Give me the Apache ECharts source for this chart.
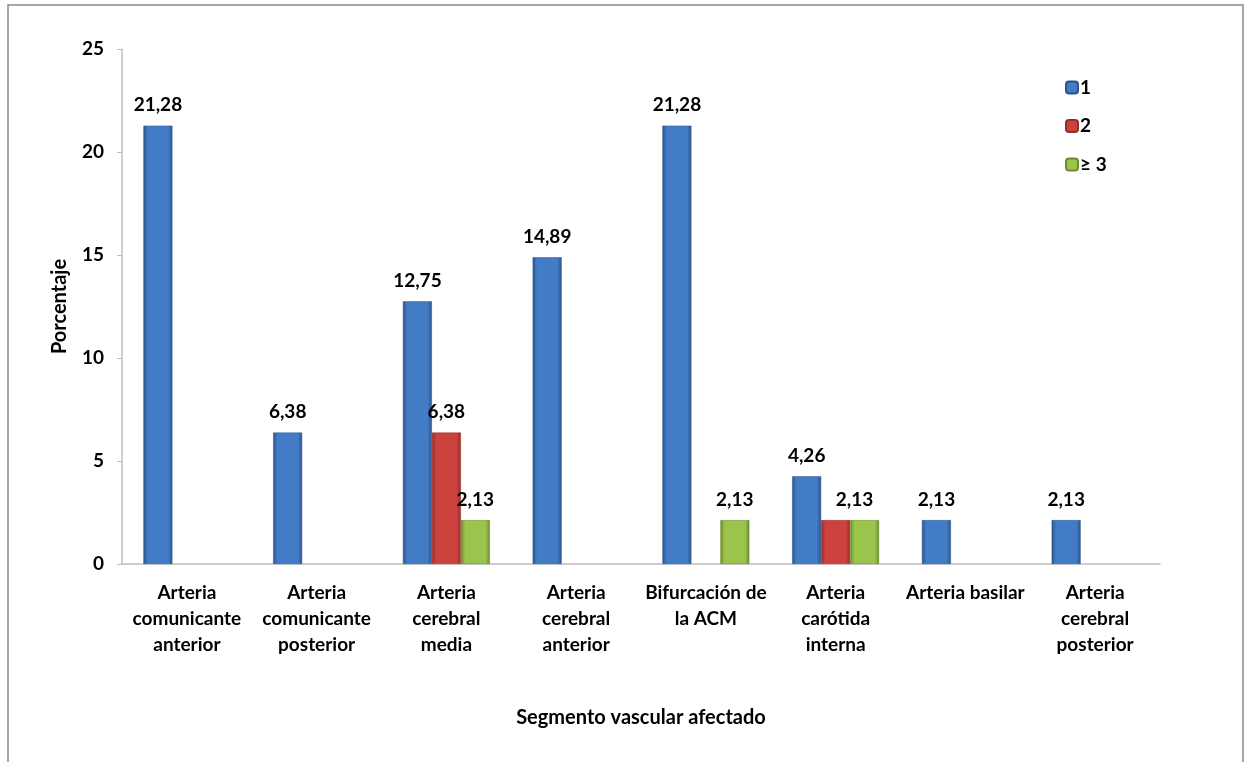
<!DOCTYPE html>
<html><head><meta charset="utf-8">
<script src="https://cdn.jsdelivr.net/npm/echarts@6/dist/echarts.min.js"></script>
<style>html,body{margin:0;padding:0;background:#fff}#c{width:1245px;height:762px}</style>
</head><body><div id="c"></div>
<script>
const categories = ['Arteria\ncomunicante\nanterior','Arteria\ncomunicante\nposterior','Arteria\ncerebral\nmedia','Arteria\ncerebral\nanterior','Bifurcación de\nla ACM','Arteria\ncarótida\ninterna','Arteria basilar','Arteria\ncerebral\nposterior'];
const seriesNames = ['1','2','≥ 3'];
const s1 = [21.28, 6.38, 12.75, 14.89, 21.28, 4.26, 2.13, 2.13];
const s2 = [null, null, 6.38, null, null, 2.13, null, null];
const s3 = [null, null, 2.13, null, 2.13, 2.13, null, null];
const hideLabel2 = [false,false,false,false,false,true,false,false];
const yTicks = [0,5,10,15,20,25];

const FONT = 'Lato, "Open Sans", sans-serif';
function grad(dark, light){
  return new echarts.graphic.LinearGradient(0,0,1,0,[
    {offset:0,color:dark},{offset:0.15,color:light},{offset:0.5,color:light},{offset:0.85,color:light},{offset:1,color:dark}
  ]);
}
const colors = [
  {dark:'#2a548c', light:'#437cc6', border:'#2a548c'},
  {dark:'#962c29', light:'#cc423e', border:'#962c29'},
  {dark:'#6a8a2b', light:'#9bc44d', border:'#6a8a2b'}
];
const fmt = p => p.value==null ? '' : String(p.value.toFixed(2)).replace('.', ',');
function mkSeries(idx, data, hide, shift){
  return {
    name: seriesNames[idx], type:'bar', barGap:'0%', barCategoryGap:'33%',
    data: data.map((v,i)=>({value:v, label:{show: !(hide && hide[i]), offset:[(shift && shift[i])||0, 0]}})),
    itemStyle:{color:grad(colors[idx].dark, colors[idx].light), borderColor:colors[idx].border, borderWidth:0.5},
    label:{show:true, position:'top', distance:11, formatter:fmt, fontFamily:FONT, fontWeight:'bold', fontSize:19, color:'#000'}
  };
}
const chart = echarts.init(document.getElementById('c'), null, {renderer:'canvas'});
chart.setOption({
  animation:false,
  backgroundColor:'#fff',
  graphic:[{type:'rect', shape:{x:8,y:5,width:1235,height:770}, style:{fill:'none', stroke:'#8a8a8a', lineWidth:1.5}, silent:true}],
  grid:{left:122, right:85, top:49, bottom:198},
  legend:{
    orient:'vertical', left:1060, top:73, itemWidth:12, itemHeight:12, itemGap:19.5,
    data:seriesNames.map((n,i)=>({name:n, itemStyle:{color:grad(colors[i].dark, colors[i].light)}})),
    textStyle:{fontFamily:FONT, fontWeight:'bold', fontSize:19, color:'#000', padding:[0,0,0,-3]}
  },
  xAxis:{
    type:'category', data:categories,
    name:'Segmento vascular afectado', nameLocation:'middle', nameGap:144,
    nameTextStyle:{fontFamily:FONT, fontWeight:'bold', fontSize:20, color:'#000'},
    axisLine:{lineStyle:{color:'#bfbfbf', width:1.5}}, axisTick:{show:false},
    axisLabel:{interval:0, margin:16, lineHeight:26, fontFamily:FONT, fontWeight:'bold', fontSize:19, color:'#000'}
  },
  yAxis:{
    type:'value', min:0, max:25, interval:5,
    name:'Porcentaje', nameLocation:'middle', nameGap:52,
    nameTextStyle:{fontFamily:FONT, fontWeight:'bold', fontSize:20, color:'#000'},
    axisLine:{show:true, lineStyle:{color:'#bfbfbf', width:1.5}},
    axisTick:{show:true, length:5, lineStyle:{color:'#bfbfbf'}},
    splitLine:{show:false},
    axisLabel:{margin:18, fontFamily:FONT, fontWeight:'bold', fontSize:19, color:'#000',
      formatter:v=> yTicks.includes(v) ? String(v) : ''}
  },
  series:[mkSeries(0,s1), mkSeries(1,s2,hideLabel2), mkSeries(2,s3,null,[0,0,0,0,0,-10,0,0])]
});
</script></body></html>
